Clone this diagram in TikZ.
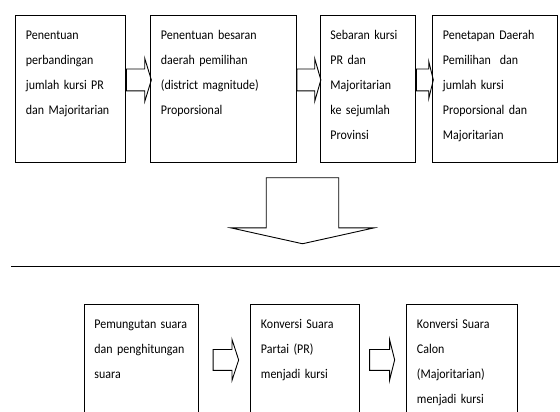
\documentclass[tikz,border=0pt]{standalone}
\usepackage{fontspec}
\setmainfont{Carlito}[FakeStretch=0.9]
\usetikzlibrary{shapes.arrows,calc}
\begin{document}
\begin{tikzpicture}
		[	x=1pt,y=-1pt,
		box/.style={rectangle,draw=black,line width=.9pt,anchor=north west,inner xsep=10.5pt,inner ysep=0pt,align=left,text height=24pt,font=\fontsize{13.3}{25}\selectfont},
		panah/.style={single arrow,draw=black,line width=.9pt,inner xsep=0pt,inner ysep=10.5pt,anchor=tail,single arrow head extend=10.5,minimum height=25,single arrow tip angle=146}
		]
		\useasboundingbox (0,0) rectangle (560,412);

		\node[box,text width=89,text depth=123] (kursi) at (15,15){Penentuan\\perbandingan\\jumlah kursi PR\\dan Majoritarian};
		\node[box,text width=124.5,text depth=123] (besaran) at (150,15){Penentuan besaran\\daerah pemilihan\\(district magnitude)\\Proporsional};
		\node[box,text width=74.5,text depth=123] (sebaran) at (319.5,15){Sebaran kursi\\PR dan\\Majoritarian\\ke sejumlah\\Provinsi};
		\node[box,text width=104,text depth=123] (penetapan) at (432,15){Penetapan Daerah\\Pemilihan\ \ dan\\jumlah kursi\\Proporsional dan\\Majoritarian};

\node[panah] (p1) at ($(kursi.east)+(0,-9)$){};
\node[panah,minimum height=24,single arrow tip angle=148] (p2) at ($(besaran.east)+(0,-9)$){};
\node[panah,minimum height=17,single arrow head extend=7.5,single arrow tip angle=152] (p3) at ($(sebaran.east)+(0,-9)$){};

\node[panah,rotate=-90,minimum height=66,inner ysep=35.8pt,single arrow head extend=35.3,single arrow tip angle=155] (turun) at (302.5,177.3){};
		\draw[line width=1.1pt] (11,266.7) -- (560,266.7);

		\node[box,text width=93,text depth=87] (pemungutan) at (83.5,304){Pemungutan suara\\dan penghitungan\\suara};
		\node[box,text width=87.5,text depth=87] (konversiPR) at (250,304){Konversi Suara\\Partai (PR)\\menjadi kursi};
		\node[box,text width=89.5,text depth=87] (konversiCalon) at (406,304){Konversi Suara\\Calon\\(Majoritarian)\\menjadi kursi};

\node[panah,inner ysep=10pt,single arrow head extend=10,minimum height=25.6,single arrow tip angle=144] (p4) at ($(pemungutan.east)+(14.2,0)$){};
\node[panah,inner ysep=10pt,single arrow head extend=10,minimum height=25,single arrow tip angle=152] (p5) at ($(konversiPR.east)+(9.8,0)$){};
	\end{tikzpicture}
\end{document}
